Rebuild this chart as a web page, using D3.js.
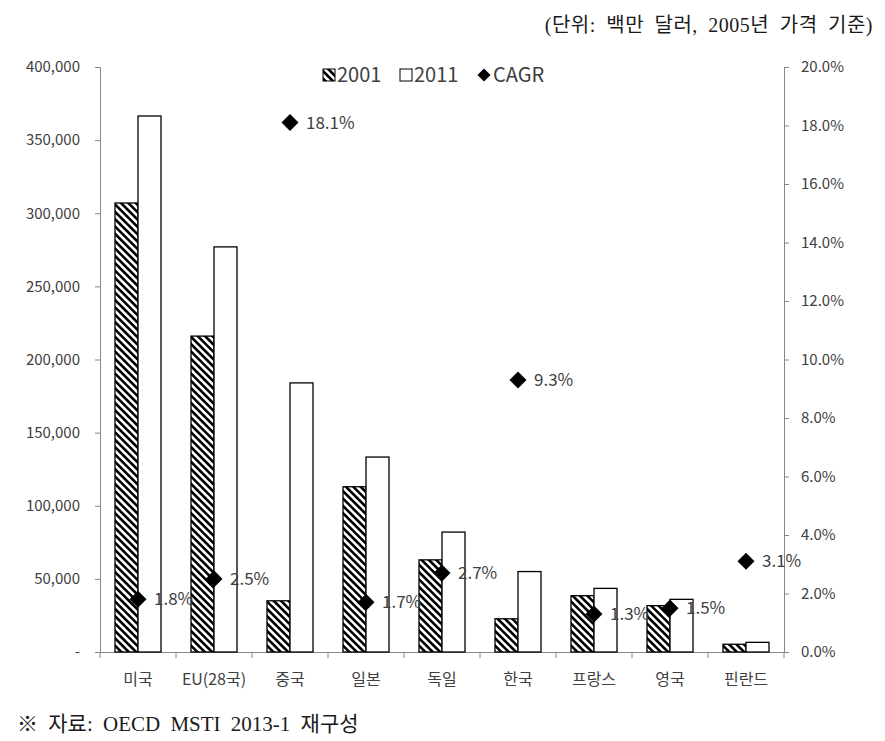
<!DOCTYPE html>
<html>
<head>
<meta charset="utf-8">
<script src="https://cdn.jsdelivr.net/npm/d3@7"></script>
<style>
  body { margin: 0; background: #fff; }
  svg { display: block; }
</style>
</head>
<body>
<svg id="chart" width="885" height="741"></svg>
<script>
const categories = ["미국", "EU(28국)", "중국", "일본", "독일", "한국", "프랑스", "영국", "핀란드"];
const values2001 = [307000, 216000, 35000, 113000, 63000, 22700, 38500, 31700, 5300];
const values2011 = [366500, 277000, 184000, 133300, 82000, 55000, 43500, 36000, 6600];
const cagr = [1.8, 2.5, 18.1, 1.7, 2.7, 9.3, 1.3, 1.5, 3.1];
const seriesNames = ["2001", "2011"];
const leftTicks = [0, 50000, 100000, 150000, 200000, 250000, 300000, 350000, 400000];
const rightTicks = [0, 2, 4, 6, 8, 10, 12, 14, 16, 18, 20];
const unitText = "(단위: 백만 달러, 2005년 가격 기준)";
const sourceText = "※ 자료: OECD MSTI 2013-1 재구성";

const svg = d3.select("#chart");
const mLeft = 100, mRight = 784, mTop = 67, mBottom = 652;
const axisColor = "#868686";
const textColor = "#404040";
const sansFont = "'Noto Sans CJK KR', 'Noto Sans', sans-serif";
const serifFont = "'Liberation Serif', 'Noto Sans CJK KR', serif";

const defs = svg.append("defs");
const pat = defs.append("pattern")
  .attr("id", "hatch")
  .attr("patternUnits", "userSpaceOnUse")
  .attr("width", 5.2).attr("height", 5.2)
  .attr("patternTransform", "rotate(-45)");
pat.append("rect").attr("width", 5.2).attr("height", 5.2).attr("fill", "#fff");
pat.append("line").attr("x1", 0).attr("y1", 0).attr("x2", 0).attr("y2", 5.2)
  .attr("stroke", "#000").attr("stroke-width", 5.2);

const x0 = d3.scaleBand().domain(categories).range([mLeft, mRight]).padding(0);
const x1 = d3.scaleBand().domain(seriesNames).range([15, x0.bandwidth() - 15]).padding(0);
const yL = d3.scaleLinear().domain([0, 400000]).range([mBottom, mTop]);
const yR = d3.scaleLinear().domain([0, 20]).range([mBottom, mTop]);

// Left axis
const fmt = d3.format(",");
const gL = svg.append("g").attr("transform", `translate(${mLeft},0)`)
  .call(d3.axisLeft(yL).tickValues(leftTicks).tickSize(5).tickPadding(15)
    .tickFormat(d => d === 0 ? "-" : fmt(d)));
gL.select(".domain").attr("stroke", axisColor);
gL.selectAll(".tick line").attr("stroke", axisColor);
gL.selectAll("text").attr("fill", textColor).style("font-family", sansFont).style("font-size", "15px");

// Right axis
const gR = svg.append("g").attr("transform", `translate(${mRight},0)`)
  .call(d3.axisRight(yR).tickValues(rightTicks).tickSize(5).tickPadding(12)
    .tickFormat(d => d.toFixed(1) + "%"));
gR.select(".domain").attr("stroke", axisColor);
gR.selectAll(".tick line").attr("stroke", axisColor);
gR.selectAll("text").attr("fill", textColor).style("font-family", sansFont).style("font-size", "15px");

// Bottom axis
const gB = svg.append("g").attr("transform", `translate(0,${mBottom})`)
  .call(d3.axisBottom(x0).tickSize(0).tickPadding(22));
gB.select(".domain").attr("stroke", axisColor);
gB.selectAll("text").attr("fill", textColor).style("font-family", sansFont).style("font-size", "16px");
const bounds = categories.map(c => x0(c)).concat([mRight]);
svg.append("g").selectAll("line").data(bounds).join("line")
  .attr("x1", d => d).attr("x2", d => d)
  .attr("y1", mBottom).attr("y2", mBottom + 6)
  .attr("stroke", axisColor);

// Bars
const barData = categories.map((c, i) => ({ c, vals: [values2001[i], values2011[i]] }));
const groups = svg.append("g").selectAll("g").data(barData).join("g")
  .attr("transform", d => `translate(${x0(d.c)},0)`);
groups.selectAll("rect").data(d => d.vals.map((v, j) => ({ s: seriesNames[j], v })))
  .join("rect")
  .attr("x", d => x1(d.s))
  .attr("width", x1.bandwidth())
  .attr("y", d => yL(d.v))
  .attr("height", d => mBottom - yL(d.v))
  .attr("fill", d => d.s === "2001" ? "url(#hatch)" : "#fff")
  .attr("stroke", "#000")
  .attr("stroke-width", 1.3);

// CAGR markers
const diamond = d3.symbol().type(d3.symbolDiamond2).size(185);
const pts = categories.map((c, i) => ({ c, v: cagr[i] }));
svg.append("g").selectAll("path").data(pts).join("path")
  .attr("d", diamond)
  .attr("transform", d => `translate(${x0(d.c) + x0.bandwidth() / 2},${yR(d.v)})`)
  .attr("fill", "#000");
svg.append("g").selectAll("text").data(pts).join("text")
  .attr("x", d => x0(d.c) + x0.bandwidth() / 2 + 16)
  .attr("y", d => yR(d.v))
  .attr("dy", "0.35em")
  .attr("fill", textColor)
  .style("font-family", sansFont)
  .style("font-size", "17px")
  .text(d => d.v.toFixed(1) + "%");

// Legend
const lg = svg.append("g").style("font-family", sansFont).style("font-size", "20px").attr("fill", textColor);
lg.append("rect").attr("x", 323).attr("y", 69).attr("width", 12).attr("height", 12)
  .attr("fill", "url(#hatch)").attr("stroke", "#000").attr("stroke-width", 1);
lg.append("text").attr("x", 337).attr("y", 75).attr("dy", "0.35em").text(seriesNames[0]);
lg.append("rect").attr("x", 400).attr("y", 69).attr("width", 12).attr("height", 12)
  .attr("fill", "#fff").attr("stroke", "#000").attr("stroke-width", 1);
lg.append("text").attr("x", 414).attr("y", 75).attr("dy", "0.35em").text(seriesNames[1]);
lg.append("path").attr("d", d3.symbol().type(d3.symbolDiamond2).size(110))
  .attr("transform", "translate(484,75)").attr("fill", "#000");
lg.append("text").attr("x", 493).attr("y", 75).attr("dy", "0.35em").text("CAGR");

// Unit and source
svg.append("text").attr("x", 873).attr("y", 25).attr("dy", "0.35em")
  .attr("text-anchor", "end").attr("fill", "#1a1a1a")
  .style("font-family", serifFont).style("font-size", "20px")
  .style("letter-spacing", "0.5px").style("word-spacing", "5px").text(unitText);
svg.append("text").attr("x", 17).attr("y", 724).attr("dy", "0.35em")
  .attr("fill", "#1a1a1a")
  .style("font-family", serifFont).style("font-size", "21px")
  .style("word-spacing", "5px").text(sourceText);
</script>
</body>
</html>
